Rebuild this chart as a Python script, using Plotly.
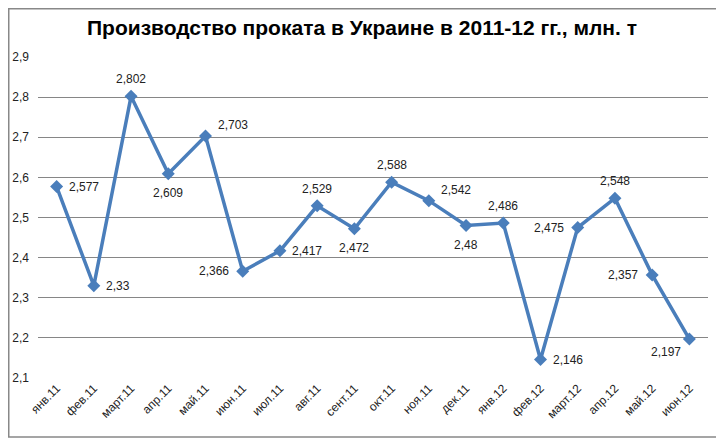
import plotly.graph_objects as go

# месяцы (категории) и значения, млн. т
months = ['янв.11', 'фев.11', 'март.11', 'апр.11', 'май.11', 'июн.11',
          'июл.11', 'авг.11', 'сент.11', 'окт.11', 'ноя.11', 'дек.11',
          'янв.12', 'фев.12', 'март.12', 'апр.12', 'май.12', 'июн.12']
values = [2.577, 2.33, 2.802, 2.609, 2.703, 2.366,
          2.417, 2.529, 2.472, 2.588, 2.542, 2.48,
          2.486, 2.146, 2.475, 2.548, 2.357, 2.197]
label_pos = ['right', 'right', 'top', 'bottom', 'top right', 'left',
             'right', 'top', 'bottom', 'top', 'top right', 'bottom',
             'top', 'right', 'left', 'top', 'left', 'bottom left']
y_ticks = [2.1, 2.2, 2.3, 2.4, 2.5, 2.6, 2.7, 2.8, 2.9]

# страница сдвигает фигуру на 8px (отступ body), поэтому размеры меньше окна
W, H = 716, 431
ml, mr, mt, mb = 30, 16, 49, 61
BLUE = '#4A7EBB'

# смещения подписей относительно точки
offsets = {
    'right':       dict(xanchor='left',   xshift=10,  yshift=0),
    'left':        dict(xanchor='right',  xshift=-12, yshift=0),
    'top':         dict(xanchor='center', xshift=0,   yshift=17),
    'bottom':      dict(xanchor='center', xshift=0,   yshift=-19),
    'top right':   dict(xanchor='left',   xshift=10,  yshift=11),
    'bottom left': dict(xanchor='right',  xshift=-6,  yshift=-13),
}

fig = go.Figure()
fig.add_trace(go.Scatter(
    x=months,
    y=values,
    mode='lines+markers',
    line=dict(color=BLUE, width=3.5),
    marker=dict(symbol='diamond', size=10, color=BLUE),
    hoverinfo='skip'
))

for m, v, p in zip(months, values, label_pos):
    fig.add_annotation(x=m, y=v, xref='x', yref='y',
                       text=('%g' % v).replace('.', ','),
                       showarrow=False, yanchor='middle',
                       font=dict(family='Liberation Sans', size=12, color='#222222'),
                       **offsets[p])

# рамка вокруг всей диаграммы
pw, ph = W - ml - mr, H - mt - mb
fig.add_shape(type='rect', xref='paper', yref='paper',
              x0=(0.75 - ml) / pw, x1=(W - 2 - ml) / pw,
              y0=-(mb - 2) / ph, y1=(ph + mt - 0.75) / ph,
              line=dict(color='#888888', width=1.5))

fig.update_layout(
    width=W, height=H,
    autosize=False,
    margin=dict(l=ml, r=mr, t=mt, b=mb, pad=0, autoexpand=False),
    separators=', ',
    title=dict(text='<b>Производство проката в Украине в 2011-12 гг., млн. т</b>',
               x=354 / W, xanchor='center', xref='container',
               y=1 - 20 / H, yanchor='middle', yref='container',
               font=dict(family='Liberation Sans', size=21, color='black')),
    plot_bgcolor='white',
    paper_bgcolor='white',
    showlegend=False,
    xaxis=dict(tickangle=-45, showgrid=False, showline=False, ticks='',
               automargin=False, range=[-0.5, len(months) - 0.5],
               tickfont=dict(family='Liberation Sans', size=12, color='#222222')),
    yaxis=dict(range=[2.1, 2.9], tickvals=y_ticks, showgrid=True,
               gridcolor='#868686', gridwidth=1, zeroline=False, showline=False,
               tickformat='.1f', ticks='', automargin=False, ticklabelstandoff=8,
               tickfont=dict(family='Liberation Sans', size=12, color='#222222'))
)

fig.write_html('out.html')
